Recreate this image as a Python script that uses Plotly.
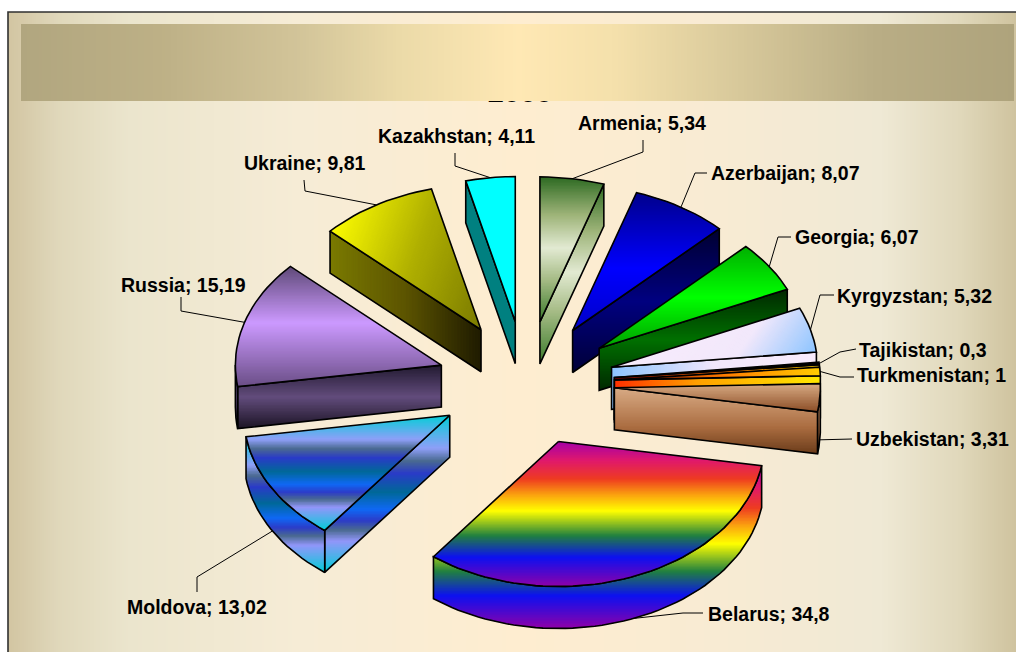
import numpy as np
import plotly.graph_objects as go

# ---- data ----
countries = ["Armenia", "Azerbaijan", "Georgia", "Kyrgyzstan", "Tajikistan", "Turkmenistan",
             "Uzbekistan", "Belarus", "Moldova", "Russia", "Ukraine", "Kazakhstan"]
shares = [5.34, 8.07, 6.07, 5.32, 0.3, 1, 3.31, 34.8, 13.02, 15.19, 9.81, 4.11]
title_text = "2005"

# ---- layout of the label text and leader elbows (page pixels) ----
label_pos = {"Armenia": (576, 123), "Azerbaijan": (709, 173), "Georgia": (793, 237),
             "Kyrgyzstan": (835, 296), "Tajikistan": (857, 350), "Turkmenistan": (855, 375),
             "Uzbekistan": (854, 439), "Belarus": (706, 614), "Moldova": (125, 607),
             "Russia": (119, 285), "Ukraine": (242, 163), "Kazakhstan": (376, 136)}
leader_elbows = {"Armenia": [(643, 140), (643, 152)], "Azerbaijan": [(707, 173), (695, 173)],
                 "Georgia": [(791, 237), (778, 237)], "Kyrgyzstan": [(834, 295), (820, 295)],
                 "Tajikistan": [(856, 349), (840, 352)], "Turkmenistan": [(854, 377), (840, 377)],
                 "Uzbekistan": [(852, 439)], "Belarus": [(703, 613), (683, 613)],
                 "Moldova": [(197, 592), (197, 577)], "Russia": [(181, 297), (181, 311)],
                 "Ukraine": [(304, 180), (305, 191)], "Kazakhstan": [(455, 153), (455, 166)]}

# ---- styles ----
RAINBOW = [(0, "#a400a8"), (.13, "#e0186c"), (.26, "#ee3c20"), (.37, "#fba30f"), (.48, "#ffff00"),
           (.65, "#208040"), (.8, "#0c10f0"), (1, "#9000a8")]
PEACOCK = [(0, "#00cfd6"), (.21, "#8f9ff8"), (.29, "#4a6a90"), (.37, "#2a3ac8"), (.49, "#006898"),
           (.6, "#0f68f4"), (.67, "#2c3cc8"), (.73, "#4a6a90"), (.8, "#9296fa"), (1, "#00cfd6")]
MOSS = [(0, "#2d6a22"), (.26, "#9db378"), (.49, "#e2ead2"), (.71, "#a5bb85"), (1, "#3a7a2a")]
V, H = (0, 1), (1, 0)
styles = {
    "Armenia": (V, MOSS, V, MOSS),
    "Azerbaijan": (V, [(0, "#00008b"), (.55, "#0000ff"), (1, "#0000c8")], V, [(0, "#000030"), (.5, "#000080"), (1, "#000038")]),
    "Georgia": (V, [(0, "#00b000"), (.5, "#00ff00"), (1, "#00a000")], V, [(0, "#002800"), (.5, "#007000"), (1, "#002800")]),
    "Kyrgyzstan": ((1, .7), [(0, "#f8ecfc"), (.6, "#f2e8fb"), (1, "#8cc4ff")], H, [(0, "#8cc4ff"), (.5, "#f0e6fb"), (1, "#f8ecfc")]),
    "Tajikistan": (H, [(0, "#000000"), (1, "#000000")], H, [(0, "#800000"), (.5, "#ff7000"), (1, "#ffd000")]),
    "Turkmenistan": (H, [(0, "#900000"), (.55, "#ff8000"), (1, "#ffcc00")], H, [(0, "#ff3000"), (.4, "#ffa000"), (1, "#ffe800")]),
    "Uzbekistan": (V, [(0, "#d8ab85"), (1, "#8b4d25")], V, [(0, "#d8ab85"), (.6, "#aa6c40"), (1, "#6b3c1a")]),
    "Belarus": (V, RAINBOW, V, RAINBOW),
    "Moldova": (V, PEACOCK, V, PEACOCK),
    "Russia": (V, [(0, "#5f4a78"), (.47, "#cc99ff"), (1, "#6a4e86")], V, [(0, "#221a30"), (.5, "#624c7c"), (1, "#1c1424")]),
    "Ukraine": ((1, .35), [(0, "#fcfc00"), (.5, "#b0b000"), (1, "#7a7a00")], H, [(0, "#7a7a00"), (.5, "#5c5400"), (1, "#1f1b00")]),
    "Kazakhstan": (V, [(0, "#00ffff"), (1, "#00ffff")], V, [(0, "#008080"), (1, "#008080")]),
}
paint_order = ["Armenia", "Kazakhstan", "Ukraine", "Azerbaijan", "Russia", "Georgia", "Kyrgyzstan",
               "Tajikistan", "Turkmenistan", "Uzbekistan", "Moldova", "Belarus"]
CX, CY, RX, RY, EXPLODE, DEPTH = 526, 383.5, 206, 145, .43, 42
BG_STOPS = [(8, "#d2c5a1"), (60, "#e0d8bb"), (130, "#ebe5cd"), (300, "#f6ecd6"), (520, "#feedd0"),
            (720, "#f8ebd3"), (880, "#efe9d5"), (960, "#e0d8bb"), (1016, "#cfc39e")]
BAND_STOPS = [(0, "#b1a67f"), (.14, "#bdb086"), (.28, "#d2c499"), (.38, "#ebdaa8"), (.5, "#ffe8b4"),
              (.6, "#f4e0ab"), (.72, "#d8c99b"), (.86, "#b9ad85"), (1, "#aea37c")]


def rgb(h):
    return np.array([int(h[i:i + 2], 16) for i in (1, 3, 5)], float)


def color_at(stops, t):
    ts = [s[0] for s in stops]
    cols = np.array([rgb(s[1]) for s in stops])
    c = [np.interp(t, ts, cols[:, k]) for k in range(3)]
    return "rgb(%d,%d,%d)" % tuple(round(v) for v in c)


def clip(poly, n, limit, keep_below):
    """Half-plane clip of a polygon along projection on n."""
    out = []
    sign = 1 if keep_below else -1
    m = len(poly)
    for i in range(m):
        a, b = poly[i], poly[(i + 1) % m]
        da = sign * (a[0] * n[0] + a[1] * n[1] - limit)
        db = sign * (b[0] * n[0] + b[1] * n[1] - limit)
        if da <= 0:
            out.append(a)
        if (da < 0 < db) or (db < 0 < da):
            f = da / (da - db)
            out.append((a[0] + f * (b[0] - a[0]), a[1] + f * (b[1] - a[1])))
    return out


def gradient_traces(poly, direction, stops, step=1.5):
    n = np.array(direction, float)
    n = n / np.hypot(*n)
    proj = [p[0] * n[0] + p[1] * n[1] for p in poly]
    lo, hi = min(proj), max(proj)
    k = max(1, int(np.ceil((hi - lo) / step)))
    if len(stops) == 2 and stops[0][1] == stops[1][1]:
        k = 1
    res = []
    for i in range(k):
        t0 = lo + (hi - lo) * i / k
        t1 = lo + (hi - lo) * (i + 1) / k
        piece = clip(poly, n, t0, False)
        if i < k - 1:
            piece = clip(piece, n, t1 + 1.0, True)
        if len(piece) < 3:
            continue
        xs = [p[0] for p in piece] + [piece[0][0]]
        ys = [p[1] for p in piece] + [piece[0][1]]
        res.append(go.Scatter(x=xs, y=ys, mode="lines", fill="toself", line=dict(width=0),
                              fillcolor=color_at(stops, (i + .5) / k), hoverinfo="skip", showlegend=False))
    return res


def outline(poly, width=1.6):
    xs = [p[0] for p in poly] + [poly[0][0]]
    ys = [p[1] for p in poly] + [poly[0][1]]
    return go.Scatter(x=xs, y=ys, mode="lines", line=dict(color="#000000", width=width),
                      hoverinfo="skip", showlegend=False)


fig = go.Figure()

# background
bg_x = np.arange(9, 1017, 2)
xmin, xmax = BG_STOPS[0][0], BG_STOPS[-1][0]
fig.add_trace(go.Heatmap(z=[bg_x.tolist()], x0=9, dx=2, y0=332, dy=640, zmin=xmin, zmax=xmax, showscale=False,
                         colorscale=[[(p - xmin) / (xmax - xmin), c] for p, c in BG_STOPS], hoverinfo="skip"))
fig.add_trace(go.Scatter(x=[8, 8, 1016], y=[652, 12, 12], mode="lines", line=dict(color="#303030", width=1.6),
                         hoverinfo="skip", showlegend=False))

# title, mostly hidden beneath the band
fig.add_trace(go.Scatter(x=[520], y=[95], mode="text", text=[title_text], hoverinfo="skip", showlegend=False,
                         textposition="middle center",
                         textfont=dict(family="Liberation Sans", size=29, color="#000000", weight="bold")))
for tr in gradient_traces([(21, 24), (1014, 24), (1014, 101), (21, 101)], H, BAND_STOPS, step=3):
    fig.add_trace(tr)

# pie geometry
total = sum(shares)
geom = {}
acc = 0.0
for name, val in zip(countries, shares):
    a0 = acc / total * 2 * np.pi
    acc += val
    a1 = acc / total * 2 * np.pi
    mid = (a0 + a1) / 2
    ax = CX + EXPLODE * RX * np.sin(mid)
    ay = CY - EXPLODE * RY * np.cos(mid)
    k = max(3, int((a1 - a0) / np.radians(2)))
    arc = [(ax + RX * np.sin(t), ay - RY * np.cos(t)) for t in np.linspace(a0, a1, k)]
    lower = np.cos(mid) < 0
    geom[name] = dict(apex=(ax, ay), arc=arc,
                      mid=(ax + RX * np.sin(mid), ay - RY * np.cos(mid) + (DEPTH if lower else 0)))

down = lambda pts: [(p[0], p[1] + DEPTH) for p in pts]

# leader lines beneath the slices
for name in countries:
    pts = leader_elbows[name] + [geom[name]["mid"]]
    fig.add_trace(go.Scatter(x=[p[0] for p in pts], y=[p[1] for p in pts], mode="lines",
                             line=dict(color="#000000", width=1), hoverinfo="skip", showlegend=False))

for name in paint_order:
    g = geom[name]
    td, ts, sd, ss = styles[name]
    apex, arc = g["apex"], g["arc"]
    faces = []
    if arc[0][0] < apex[0]:
        faces.append([apex, arc[0]])
    run = [i for i in range(len(arc) - 1) if arc[i + 1][0] < arc[i][0]]
    if run:
        faces.append(arc[run[0]:run[-1] + 2])
    if apex[0] < arc[-1][0]:
        faces.append([arc[-1], apex])
    for edge in faces:
        poly = edge + down(edge)[::-1]
        for tr in gradient_traces(poly, sd, ss):
            fig.add_trace(tr)
        fig.add_trace(outline(poly))
    top = [apex] + arc
    for tr in gradient_traces(top, td, ts):
        fig.add_trace(tr)
    fig.add_trace(outline(top))

annotations = []
for name, val in zip(countries, shares):
    x, y = label_pos[name]
    annotations.append(dict(x=x, y=y, xref="x", yref="y", xanchor="left", yanchor="middle", showarrow=False,
                            text="<b>%s; %s</b>" % (name, str(val).replace(".", ",")),
                            font=dict(family="Liberation Sans", size=19.5, color="#000000")))

fig.update_layout(width=1016, height=652, margin=dict(l=0, r=0, t=0, b=0), paper_bgcolor="#ffffff",
                  plot_bgcolor="#ffffff", showlegend=False, annotations=annotations,
                  xaxis=dict(range=[0, 1016], visible=False, fixedrange=True),
                  yaxis=dict(range=[652, 0], visible=False, fixedrange=True))
fig.write_html("out.html", config={"displayModeBar": False},
               post_script="document.body.style.margin='0';document.body.style.overflow='hidden';")
